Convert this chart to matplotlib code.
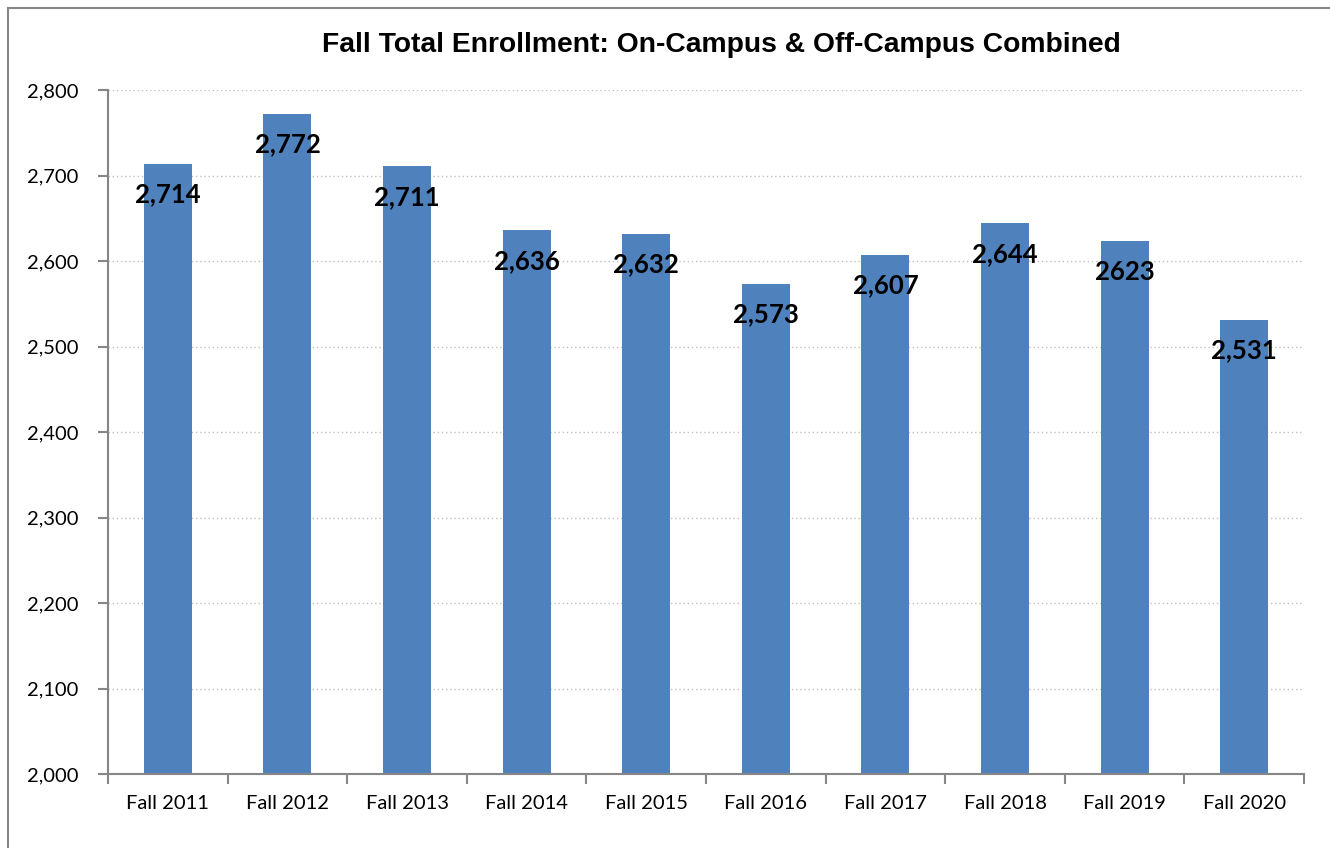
import numpy as np
import matplotlib.pyplot as plt
from matplotlib.lines import Line2D

# data
terms = ["Fall 2011", "Fall 2012", "Fall 2013", "Fall 2014", "Fall 2015",
         "Fall 2016", "Fall 2017", "Fall 2018", "Fall 2019", "Fall 2020"]
enrollment = [2714, 2772, 2711, 2636, 2632, 2573, 2607, 2644, 2623, 2531]
bar_labels = ["2,714", "2,772", "2,711", "2,636", "2,632",
              "2,573", "2,607", "2,644", "2623", "2,531"]
yticks = [2000, 2100, 2200, 2300, 2400, 2500, 2600, 2700, 2800]

W, H = 1330, 848
fig = plt.figure(figsize=(W / 100, H / 100), dpi=100)
ax = fig.add_axes([108 / W, 1 - 774 / H, (1304 - 108) / W, (774 - 90) / H])

x = np.arange(len(terms))
ax.bar(x, enrollment, width=0.4, color="#4F81BD", zorder=2)

for xi, v, lab in zip(x, enrollment, bar_labels):
    ax.annotate(lab, (xi, v), xytext=(0, -22), textcoords="offset points",
                ha="center", va="center", fontsize=18.5, fontweight="bold",
                family="Lato", color="black", zorder=3)

ax.set_xlim(-0.5, len(terms) - 0.5)
ax.set_ylim(2000, 2800)
ax.set_yticks(yticks)
ax.set_yticklabels([f"{t:,}" for t in yticks], family="Lato", fontsize=14.5)
ax.yaxis.grid(True, linestyle=(0, (1, 2)), color="#BFBFBF", linewidth=1, zorder=0)

ax.set_xticks(x)
ax.set_xticklabels(terms, family="Lato", fontsize=14.5)
ax.set_xticks(np.arange(-0.5, len(terms)), minor=True)
ax.tick_params(axis="x", which="major", length=0, pad=15)
ax.tick_params(axis="x", which="minor", length=7, color="#868686", width=1.5)
ax.tick_params(axis="y", length=7, color="#868686", width=1.5, pad=14)

for s in ["top", "right"]:
    ax.spines[s].set_visible(False)
for s in ["left", "bottom"]:
    ax.spines[s].set_color("#868686")
    ax.spines[s].set_linewidth(1.5)

fig.text(721 / W, 1 - 45 / H, "Fall Total Enrollment: On-Campus & Off-Campus Combined",
         ha="center", va="center", fontsize=20.3, fontweight="bold",
         family="Liberation Sans")

# outer chart border (only left and top visible)
fig.add_artist(Line2D([7.5 / W, 7.5 / W], [0, 1 - 7.5 / H], color="#868686", lw=1.5,
                      transform=fig.transFigure))
fig.add_artist(Line2D([7.5 / W, 1], [1 - 7.5 / H, 1 - 7.5 / H], color="#868686", lw=1.5,
                      transform=fig.transFigure))

fig.savefig("out.png", dpi=100)
